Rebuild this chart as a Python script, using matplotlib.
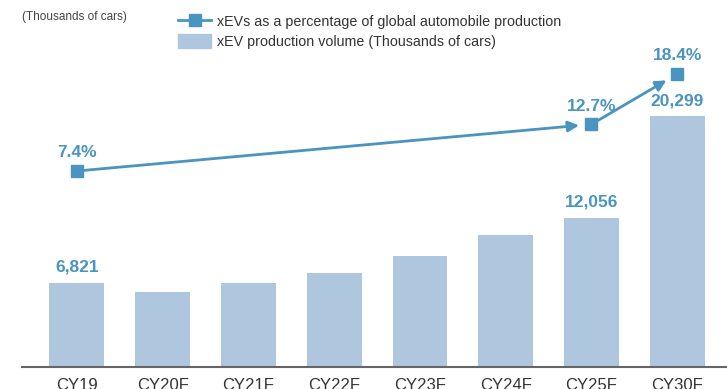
import matplotlib as mpl
mpl.use('Agg')
import matplotlib.pyplot as plt
from matplotlib.lines import Line2D
from matplotlib.patches import Patch

years = ['CY19', 'CY20F', 'CY21F', 'CY22F', 'CY23F', 'CY24F', 'CY25F', 'CY30F']
volume = [6821, 6040, 6820, 7630, 9000, 10700, 12056, 20299]
volume_labels = {0: '6,821', 6: '12,056', 7: '20,299'}

share_idx = [0, 6, 7]
share = [7.4, 12.7, 18.4]

BAR = '#afc7de'
BLUE = '#4a94c0'
plt.rcParams['font.family'] = ['Liberation Sans', 'DejaVu Sans']

fig = plt.figure(figsize=(7.27, 3.89), dpi=100)
ax = fig.add_axes([22 / 727, 22 / 389, 705 / 727, 367 / 389])
x = list(range(len(years)))
ax.bar(x, volume, width=0.64, color=BAR, zorder=2)
ax.set_xlim(-0.64, 7.58)
ax.set_ylim(0, 29690)
for i, txt in volume_labels.items():
    ax.text(i, volume[i] + 650, txt, ha='center', va='bottom', color=BLUE,
            fontsize=12.5, fontweight='bold')

for s in ['top', 'right', 'left']:
    ax.spines[s].set_visible(False)
ax.spines['bottom'].set_color('#666666')
ax.spines['bottom'].set_linewidth(1.5)
ax.set_yticks([])
ax.set_xticks(x)
ax.set_xticklabels(years, fontsize=12, color='#333333')
ax.tick_params(axis='x', length=0, pad=8)

ax2 = ax.twinx()
ax2.set_ylim(-14.82, 26.79)
ax2.axis('off')
xs = [x[i] for i in share_idx]
ax2.plot(xs, share, 's', color=BLUE, markersize=9, zorder=4)
for k in range(len(xs) - 1):
    ax2.annotate('', xy=(xs[k + 1], share[k + 1]), xytext=(xs[k], share[k]),
                 arrowprops=dict(arrowstyle='-|>', color=BLUE, lw=2,
                                 mutation_scale=16, shrinkA=0, shrinkB=9))
for xi, v in zip(xs, share):
    ax2.text(xi, v + 1.2, f'{v}%', ha='center', va='bottom', color=BLUE,
             fontsize=12.5, fontweight='bold')

fig.text(22 / 727, 1 - 17 / 389, '(Thousands of cars)', fontsize=8.5,
         color='#444444', va='center')
handles = [Line2D([], [], color=BLUE, marker='s', markersize=8, lw=2),
           Patch(color=BAR)]
fig.legend(handles, ['xEVs as a percentage of global automobile production',
                     'xEV production volume (Thousands of cars)'],
           loc='upper left', bbox_to_anchor=(171 / 727, 1 - 7 / 389),
           frameon=False, fontsize=10.3, labelcolor='#333333',
           handlelength=2.3, handleheight=1.15, handletextpad=0.45,
           labelspacing=0.36, borderpad=0)

fig.savefig('out.png', dpi=100)
